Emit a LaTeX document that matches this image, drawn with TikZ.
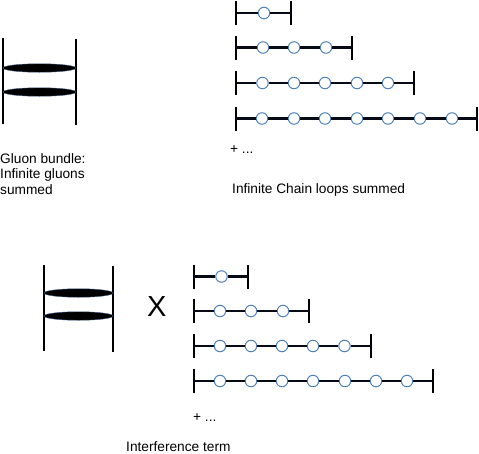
\documentclass[tikz,border=0pt]{standalone}
\usepackage{fontspec}
\setmainfont{Liberation Sans}
\usetikzlibrary{shapes.geometric}
\definecolor{ringblue}{HTML}{4F81BD}
\definecolor{linkblack}{HTML}{060A14}

\tikzset{
  caption/.style={anchor=west, inner sep=0pt, font=\fontsize{13.7}{15.4}\selectfont},
  bar/.style={draw=black, line width=2.2pt},
  link/.style={draw=linkblack, line width=2.2pt},
  ringnode/.style={circle, draw=ringblue, fill=white, line width=1pt,
                   minimum size=11.5pt, inner sep=0pt},
  bundle/.style={ellipse, draw=ringblue!70!black, fill=black, line width=.4pt, inner sep=0pt}
}

% one row: name, left x, y, ring positions, right x
\newcommand{\chainrow}[5]{
  \coordinate (#1c0) at (#2,#3);
  \coordinate (#1end) at (#5,#3);
  \draw[bar] ([yshift=-12pt]#1c0) -- ([yshift=12pt]#1c0);
  \draw[bar] ([yshift=-12pt]#1end) -- ([yshift=12pt]#1end);
  \foreach \x [count=\i, remember=\i as \p (initially 0)] in {#4} {
    \node[ringnode] (#1c\i) at (\x,#3) {};
    \draw[link] (#1c\p) -- (#1c\i);
    \xdef\lastring{\i}
  }
  \draw[link] (#1c\lastring) -- (#1end);
}

% name, left x, right x, top y, first bundle y, second bundle y
\newcommand{\gluonpair}[6]{
  \coordinate (#1ltop) at (#2,#4);
  \coordinate (#1lbot) at (#2,#4+86);
  \coordinate (#1rtop) at (#3,#4+1);
  \coordinate (#1rbot) at (#3,#4+87);
  \draw[bar] (#1ltop) -- (#1lbot);
  \draw[bar] (#1rtop) -- (#1rbot);
  \node[bundle, minimum width=#3pt-#2pt, minimum height=8.5pt] (#1up) at ({(#2+#3)/2},#5) {};
  \node[bundle, minimum width=#3pt-#2pt, minimum height=8.5pt] (#1down) at ({(#2+#3)/2},#6) {};
}

\begin{document}
\begin{tikzpicture}[x=1pt, y=-1pt]
  \useasboundingbox (0,0) rectangle (479,453);

  \gluonpair{top}{3}{76}{38}{68}{92}
  \chainrow{one}{236}{13}{264}{291}
  \chainrow{three}{236}{47.5}{263,294,326}{352}
  \chainrow{five}{236}{83}{262.5,294,325,357,388}{414}
  \chainrow{seven}{236}{118.5}{262,294,325,357,388,420,452}{477}

  \node[caption, align=left] (bundletxt) at (0,174) {Gluon bundle:\\Infinite gluons\\summed};
  \node[caption] (plustop) at (230,150) {+ ...};
  \node[caption] (chaintxt) at (232,190) {Infinite Chain loops summed};

  \gluonpair{low}{44}{113}{265}{293}{316}
  \chainrow{oneb}{194}{276.5}{221.5}{248}
  \chainrow{threeb}{194}{311}{220,251,283}{309}
  \chainrow{fiveb}{194}{346}{220,251,282,313,344.5}{371}
  \chainrow{sevenb}{194}{381}{220,251,282,313,345,376,407}{433}

  \node[caption, font=\fontsize{29}{29}\selectfont] (times) at (147,307) {X};
  \node[caption] (plusbot) at (193,418) {+ ...};
  \node[caption, anchor=base west] (intertxt) at (126,451.5) {Interference term};
\end{tikzpicture}
\end{document}
